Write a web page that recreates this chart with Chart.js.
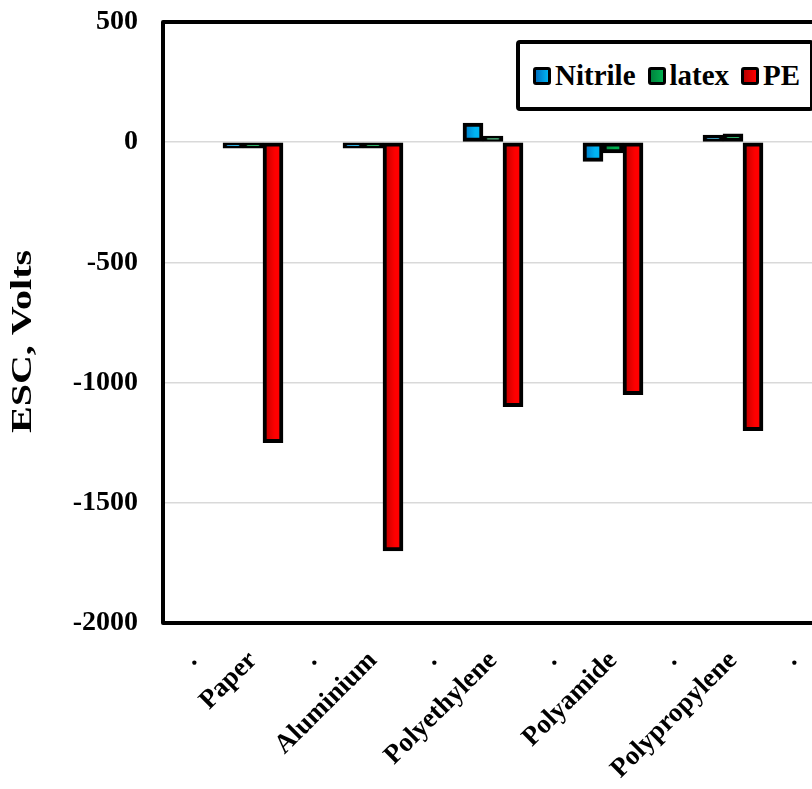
<!DOCTYPE html>
<html lang="en">
<head>
    <meta charset="UTF-8">
    <title>ESC, Volts</title>
    <script src="https://cdn.jsdelivr.net/npm/chart.js"></script>
    <style>
        body {
            margin: 0;
            background: #ffffff;
            overflow: hidden;
            width: 812px;
            height: 789px;
        }

        .wrap {
            position: relative;
            width: 840px;
            height: 789px;
        }

        .legend {
            position: absolute;
            left: 516px;
            top: 40px;
            width: 298px;
            height: 71px;
            box-sizing: border-box;
            border: 4px solid #000;
            border-radius: 4px;
            background: #fff;
            display: flex;
            align-items: center;
            padding-left: 13px;
            font-family: 'Liberation Serif', 'Times New Roman', serif;
            font-weight: bold;
            font-size: 29px;
            color: #000;
        }

        .legend .sw {
            width: 12px;
            height: 12px;
            border: 3px solid #000;
            border-radius: 3px;
            margin-right: 4px;
        }

        .legend .item {
            display: flex;
            align-items: center;
            margin-right: 12px;
        }
    </style>
</head>
<body>
    <div class="wrap">
        <canvas id="esc"></canvas>
        <div class="legend" id="legend"></div>
    </div>

    <script>
        // categories (the "." entries are empty spacer slots)
        const categories = ['.', 'Paper', '.', 'Aluminium', '.', 'Polyethylene', '.', 'Polyamide', '.', 'Polypropylene', '.'];
        const seriesNames = ['Nitrile', 'latex', 'PE'];
        const nitrile = [null, -12, null, -20, null, 80, null, -80, null, 30, null];
        const latex = [null, -5, null, -10, null, 15, null, -45, null, 35, null];
        const pe = [null, -1250, null, -1700, null, -1100, null, -1050, null, -1200, null];
        const yTicks = [500, 0, -500, -1000, -1500, -2000];

        const darkCols = ['#0070C0', '#00843E', '#B80000'];
        const lightCols = ['#00B4F2', '#00B050', '#FF0000'];
        const FONT = "'Liberation Serif', 'Times New Roman', serif";

        // horizontal gradient across each bar, like the original
        function barFill(i) {
            return function (c) {
                const chart = c.chart;
                const xs = chart.scales.x;
                if (!chart.chartArea || !xs || c.type !== 'data') return lightCols[i];
                const slot = xs.getPixelForValue(c.dataIndex) - xs.width / categories.length / 2;
                const w = xs.width / categories.length / seriesNames.length;
                const left = slot + i * w;
                const g = chart.ctx.createLinearGradient(left, 0, left + w, 0);
                g.addColorStop(0, darkCols[i]);
                g.addColorStop(0.6, lightCols[i]);
                g.addColorStop(1, lightCols[i]);
                return g;
            };
        }

        // frame around the plot area
        const frame = {
            id: 'frame',
            afterDatasetsDraw(chart) {
                const a = chart.chartArea;
                const ctx = chart.ctx;
                ctx.save();
                ctx.strokeStyle = '#000';
                ctx.lineWidth = 4;
                ctx.lineJoin = 'round';
                ctx.strokeRect(a.left, a.top, a.right - a.left, a.bottom - a.top);
                ctx.restore();
            }
        };

        // y axis title, stretched along its length
        const yTitle = {
            id: 'yTitle',
            afterDraw(chart) {
                const ctx = chart.ctx;
                const a = chart.chartArea;
                ctx.save();
                ctx.translate(24, (a.top + a.bottom) / 2 + 19);
                ctx.rotate(-Math.PI / 2);
                ctx.scale(1.38, 1);
                ctx.font = 'bold 29px ' + FONT;
                ctx.fillStyle = '#000';
                ctx.textAlign = 'center';
                ctx.textBaseline = 'middle';
                ctx.fillText('ESC, Volts', 0, 0);
                ctx.restore();
            }
        };

        const legendEl = document.getElementById('legend');
        seriesNames.forEach((n, i) => {
            const it = document.createElement('div');
            it.className = 'item';
            it.innerHTML = '<span class="sw" style="background:linear-gradient(90deg,' + darkCols[i] + ',' + lightCols[i] + ')"></span><span>' + n + '</span>';
            legendEl.appendChild(it);
        });

        const ds = [nitrile, latex, pe].map((d, i) => ({
            label: seriesNames[i],
            data: d,
            backgroundColor: barFill(i),
            borderColor: '#000',
            borderWidth: 4,
            borderSkipped: false,
            minBarLength: 6,
            categoryPercentage: 1,
            barPercentage: 1
        }));

        new Chart(document.getElementById('esc'), {
            type: 'bar',
            data: { labels: categories, datasets: ds },
            options: {
                responsive: true,
                maintainAspectRatio: false,
                animation: false,
                devicePixelRatio: 1,
                layout: { padding: { top: 22, right: 17, left: 0, bottom: 0 } },
                plugins: {
                    legend: { display: false },
                    tooltip: { enabled: false }
                },
                scales: {
                    x: {
                        grid: { display: false },
                        border: { display: false },
                        ticks: {
                            autoSkip: false,
                            minRotation: 45,
                            maxRotation: 45,
                            padding: 14,
                            color: '#000',
                            font: { family: FONT, weight: 'bold', size: 27 }
                        },
                        afterFit(s) { s.height = 166; s.paddingRight = 0; s.paddingLeft = 0; }
                    },
                    y: {
                        min: yTicks[yTicks.length - 1],
                        max: yTicks[0],
                        afterBuildTicks(s) { s.ticks = yTicks.map(v => ({ value: v })); },
                        grid: { color: '#d9d9d9', lineWidth: 1.5, drawTicks: false },
                        border: { display: false },
                        ticks: {
                            padding: 25,
                            color: '#000',
                            font: { family: FONT, weight: 'bold', size: 28 },
                            callback: v => String(v)
                        },
                        afterFit(s) { s.width = 163; s.paddingTop = 0; s.paddingBottom = 0; }
                    }
                }
            },
            plugins: [frame, yTitle]
        });
    </script>
</body>
</html>
